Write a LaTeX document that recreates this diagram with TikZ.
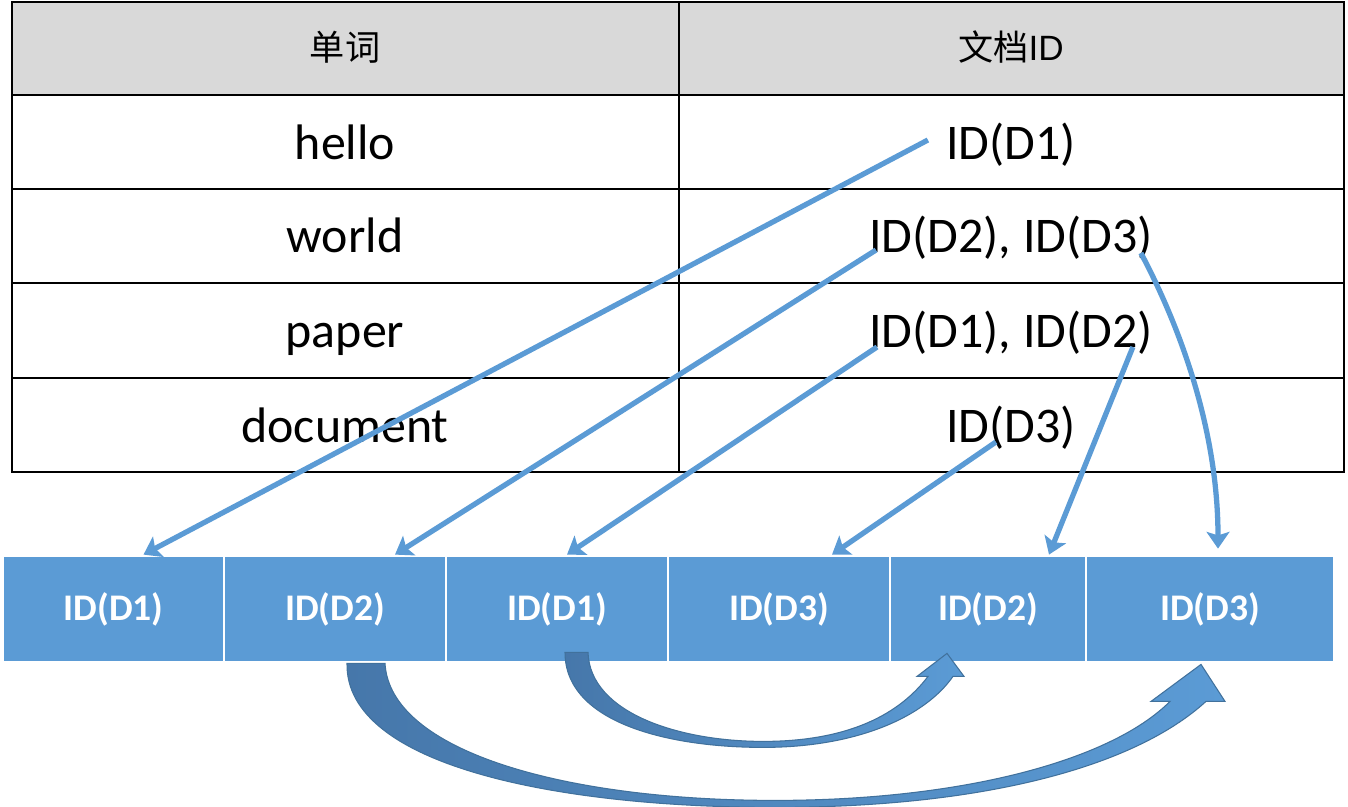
\documentclass[tikz,border=0pt]{standalone}
\usepackage{fontspec}
\setmainfont{Carlito}
\newfontfamily\cjkfont{Noto Sans CJK SC}
\newfontfamily\arialfont{Liberation Sans}
\usetikzlibrary{arrows.meta,calc}
\definecolor{idblue}{HTML}{5B9BD5}
\definecolor{iddark}{HTML}{4677AA}
\definecolor{idedge}{HTML}{41719C}
\definecolor{headgray}{HTML}{D9D9D9}

\begin{document}
\begin{tikzpicture}[x=0.02cm, y=-0.02cm,
    word/.style={font=\fontsize{28.4}{34}\selectfont, inner sep=0pt},
    head/.style={font=\fontsize{20}{24}\selectfont\cjkfont, inner sep=0pt},
    slot/.style={fill=idblue, draw=white, line width=1.6pt, minimum height=2.12cm,
        text=white, font=\fontsize{21.4}{25}\selectfont\bfseries, inner sep=0pt},
    link/.style={draw=idblue, line width=3pt,
        -{Stealth[length=9.5pt, width=13pt, inset=2pt]}},
    jump/.style={draw=idedge, line width=0.6pt, left color=iddark, right color=idblue}]
    \useasboundingbox (0,0) rectangle (1348,807);
    % the table of words
    \fill[headgray] (12,2) rectangle (1344,95);
    \draw[line width=1.1pt] (12,2) rectangle (1344,472) (679,2) -- (679,472);
    \foreach \y in {95,189,283,378}
        \draw[line width=1.1pt] (12,\y) -- (1344,\y);
    \node[head] (word-head) at (345,47) {单词};
    \node[head] (doc-head) at (1011,47) {文档{\arialfont ID}};
    \node[word, anchor=base] (hello) at (345,160) {hello};
    \node[word, anchor=base] (world) at (345,253) {world};
    \node[word, anchor=base] (paper) at (345,347) {paper};
    \node[word, anchor=base] (document) at (345,442) {document};
    % posting lists
    \node[word, anchor=base] (hello-d1) at (1011,160) {ID(D1)};
    \node[word, anchor=base west] (world-d2) at (869,253) {ID(D2),};
    \node[word, anchor=base west] (world-d3) at ($(world-d2.base east)+(11,0)$) {ID(D3)};
    \node[word, anchor=base west] (paper-d1) at (869,347) {ID(D1),};
    \node[word, anchor=base west] (paper-d2) at ($(paper-d1.base east)+(11,0)$) {ID(D2)};
    \node[word, anchor=base] (document-d3) at (1011,442) {ID(D3)};
    % the id bar
    \node[slot, minimum width=4.42cm] (slot1) at (113.5,609) {ID(D1)};
    \node[slot, minimum width=4.44cm] (slot2) at (335,609) {ID(D2)};
    \node[slot, minimum width=4.44cm] (slot3) at (557,609) {ID(D1)};
    \node[slot, minimum width=4.44cm] (slot4) at (779,609) {ID(D3)};
    \node[slot, minimum width=3.92cm] (slot5) at (988,609) {ID(D2)};
    \node[slot, minimum width=4.96cm] (slot6) at (1210,609) {ID(D3)};
    % lists point into the bar
    \draw[link] ($(hello-d1.base west)+(-18,-20)$) -- ($(slot1.north)+(30,0)$);
    \draw[link] ($(world-d2.base west)+(7,-3)$) -- ($(slot2.north)+(60,0)$);
    \draw[link] ($(paper-d1.base west)+(8,0)$) -- ($(slot3.north)+(10,0)$);
    \draw[link] ($(document-d3.base west)+(50,0)$) -- ($(slot4.north)+(53,0)$);
    \draw[link] ($(paper-d2.base east)+(-20,0)$) -- ($(slot5.north)+(61,0)$);
    \draw[link] ($(world-d3.base east)+(-12,0)$) .. controls +(45,85) and +(0,-110)
        .. ($(slot6.north)+(8,-6)$);
    % next links below the bar
    \begin{scope}[shift={(slot2.south)}]
        \path[jump] (12,0) .. controls (10,103) and (225,144) .. (440,144)
            .. controls (650,144) and (800,103) .. (871,38)
            -- (890,38) -- (866,1) -- (816,38) -- (835,38)
            .. controls (775,98) and (625,137) .. (440,137)
            .. controls (230,137) and (55,88) .. (50,0) -- cycle;
    \end{scope}
    \begin{scope}[shift={(slot3.south)}]
        \path[jump] (8,-11) .. controls (8,60) and (113,84) .. (206,84)
            .. controls (301,84) and (368,53) .. (396,13)
            -- (407,13) -- (390,-10) -- (360,13) -- (371,13)
            .. controls (343,50) and (293,78) .. (206,78)
            .. controls (123,78) and (33,50) .. (31,-11) -- cycle;
    \end{scope}
\end{tikzpicture}
\end{document}
